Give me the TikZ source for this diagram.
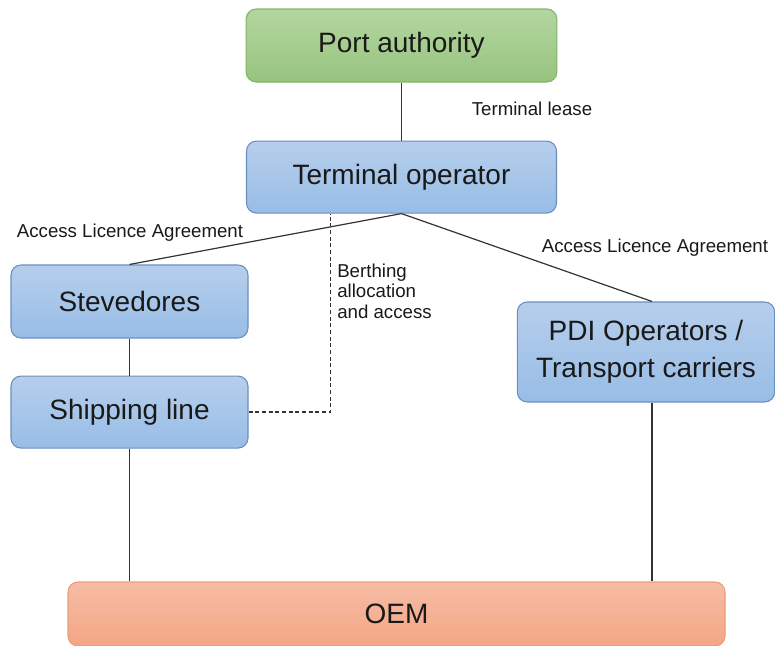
\documentclass[tikz,border=0pt]{standalone}
\usepackage{fontspec}
\setmainfont{Liberation Sans}
\usetikzlibrary{positioning}
\definecolor{porttop}{RGB}{180,214,161}
\definecolor{portbot}{RGB}{151,196,126}
\definecolor{portline}{RGB}{130,179,102}
\definecolor{optop}{RGB}{182,206,236}
\definecolor{opbot}{RGB}{152,189,230}
\definecolor{opline}{RGB}{108,142,191}
\definecolor{oemtop}{RGB}{246,188,165}
\definecolor{oembot}{RGB}{244,166,132}
\definecolor{oemline}{RGB}{232,158,120}
\definecolor{linkcol}{RGB}{51,51,51}

\begin{document}
\begin{tikzpicture}[
  x=0.75pt, y=-0.75pt,
  every node/.style={text=black!90},
  box/.style={draw, rounded corners=7.5pt, align=center, inner sep=0pt, line width=0.8pt,
    font=\fontsize{21}{28}\selectfont},
  portbox/.style={box, draw=portline, top color=porttop, bottom color=portbot},
  opbox/.style={box, draw=opline, top color=optop, bottom color=opbot},
  oembox/.style={box, draw=oemline, top color=oemtop, bottom color=oembot},
  lbl/.style={font=\fontsize{14}{17}\selectfont, align=left, inner sep=0pt},
  link/.style={draw=linkcol, line width=0.9pt},
  dlink/.style={link, dash pattern=on 3pt off 2pt}
]
\useasboundingbox (0,0) rectangle (775,646);

% ---------------- top ----------------
\node[portbox, minimum width=233pt, minimum height=54.75pt] (port) at (401.5,45.5) {Port authority};
\node[opbox, minimum width=232.5pt, minimum height=54pt, below=43.5pt of port] (term) {Terminal operator};

% ---------------- left column ----------------
\node[opbox, minimum width=177.75pt, minimum height=54.75pt] (stev) at (129.5,301.5) {Stevedores};
\node[opbox, minimum width=177.75pt, minimum height=54pt, below=27.75pt of stev] (ship) {Shipping line};

% ---------------- right column ----------------
\node[opbox, minimum width=193pt, minimum height=75pt] (pdi) at (646,352) {PDI Operators /\\Transport carriers};

% ---------------- bottom ----------------
\node[oembox, minimum width=492.75pt, minimum height=48pt] (oem) at (396.5,614) {OEM};

% ---------------- labels ----------------
\node[lbl] (lease) at (532,109) {Terminal lease};
\node[lbl] (alaleft) at (130,233) {Access Licence Agreement};
\node[lbl] (alaright) at (655,248) {Access Licence Agreement};
\node[lbl, anchor=west, text depth=0pt] (berth) at (337,291) {Berthing\\[-1.5pt]allocation\\[-1.5pt]and access};

% ---------------- links ----------------
\draw[link] (port) -- (term);
\draw[link] (term.south) -- (stev.north);
\draw[link] (term.south) -- ([xshift=4.5pt]pdi.north);
\draw[link] (stev) -- (ship);
\draw[link] (ship.south) -- (ship.south |- oem.north);
\draw[link] ([xshift=4.5pt]pdi.south) -- ([xshift=4.5pt]pdi.south |- oem.north);
\draw[dlink] (ship.east) -| ([xshift=-53.25pt]term.south);

\end{tikzpicture}
\end{document}
